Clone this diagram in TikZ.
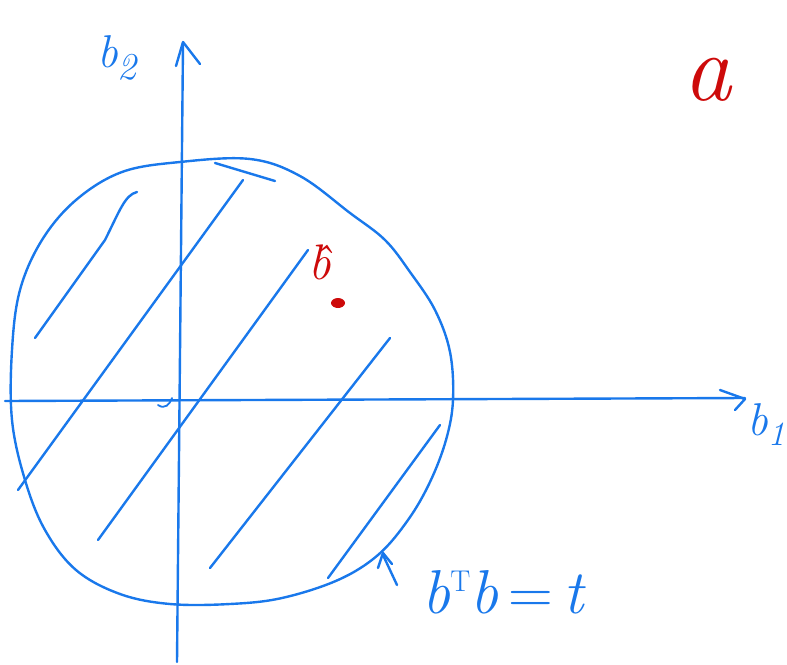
\documentclass[tikz,border=0pt]{standalone}
\usepackage{fontspec}
\usetikzlibrary{arrows.meta}
\definecolor{pen}{RGB}{25,120,235}
\definecolor{redpen}{RGB}{205,10,10}
\begin{document}
\begin{tikzpicture}[x=1pt,y=-1pt,
  stroke/.style={draw=pen,line width=2.4pt,line cap=round,line join=round},
  lbl/.style={text=pen,font=\fontsize{46}{46}\selectfont\itshape,inner sep=0pt},
  rlbl/.style={text=redpen,font=\fontsize{96}{96}\selectfont\itshape,inner sep=0pt}]
\useasboundingbox (0,0) rectangle (787,664);
% circle
\draw[stroke] plot[smooth cycle,tension=0.6] coordinates {
 (180,162) (250,159) (300,176) (350,213) (385,240) (410,272) (435,310)
 (450,352) (453,400) (446,440) (430,482) (408,520) (378,555) (338,580)
 (282,598) (230,604) (170,604) (120,594) (76,570) (45,530) (25,480)
 (12,420) (12,350) (20,290) (42,240) (76,200) (122,172)};
\draw[stroke] (215,163) -- (275,181);
% axes
\draw[stroke] (5,401) -- (745,398);
\draw[stroke] (720,390) -- (745,399) -- (735,410);
\draw[stroke] (177,662) -- (183,44);
\draw[stroke] (176,66) -- (183,42) -- (200,64);
% hatch
\draw[stroke] (35,338) -- (105,240) .. controls (120,210) and (125,195) .. (137,192);
\draw[stroke] (18,490) -- (243,180);
\draw[stroke] (98,540) -- (308,250);
\draw[stroke] (210,568) -- (390,338);
\draw[stroke] (328,578) -- (440,425);
% origin squiggle
\draw[stroke,line width=1.8pt] (158,405) .. controls (165,410) and (170,404) .. (172,398);
% arrow to circle
\draw[stroke] (397,585) -- (383,555);
\draw[stroke] (378,568) -- (383,553) -- (392,564);
% labels
\node[lbl] (b2) at (117,58) {b\raisebox{-12pt}{\fontsize{38}{38}\selectfont 2}};
\node[lbl] (b1) at (766,425) {b\raisebox{-10pt}{\fontsize{34}{34}\selectfont 1}};
\node[lbl,font=\fontsize{62}{62}\selectfont\itshape] (eq) at (503,592) {b\raisebox{22pt}{\fontsize{30}{30}\selectfont\upshape T}b\,{\upshape =}\,t};
\node[rlbl] (a) at (707,80) {a};
\node[rlbl,font=\fontsize{50}{50}\selectfont\itshape] (bh) at (320,262) {\^{b}};
\fill[redpen] (338,303) ellipse (7 and 5);
\end{tikzpicture}
\end{document}
